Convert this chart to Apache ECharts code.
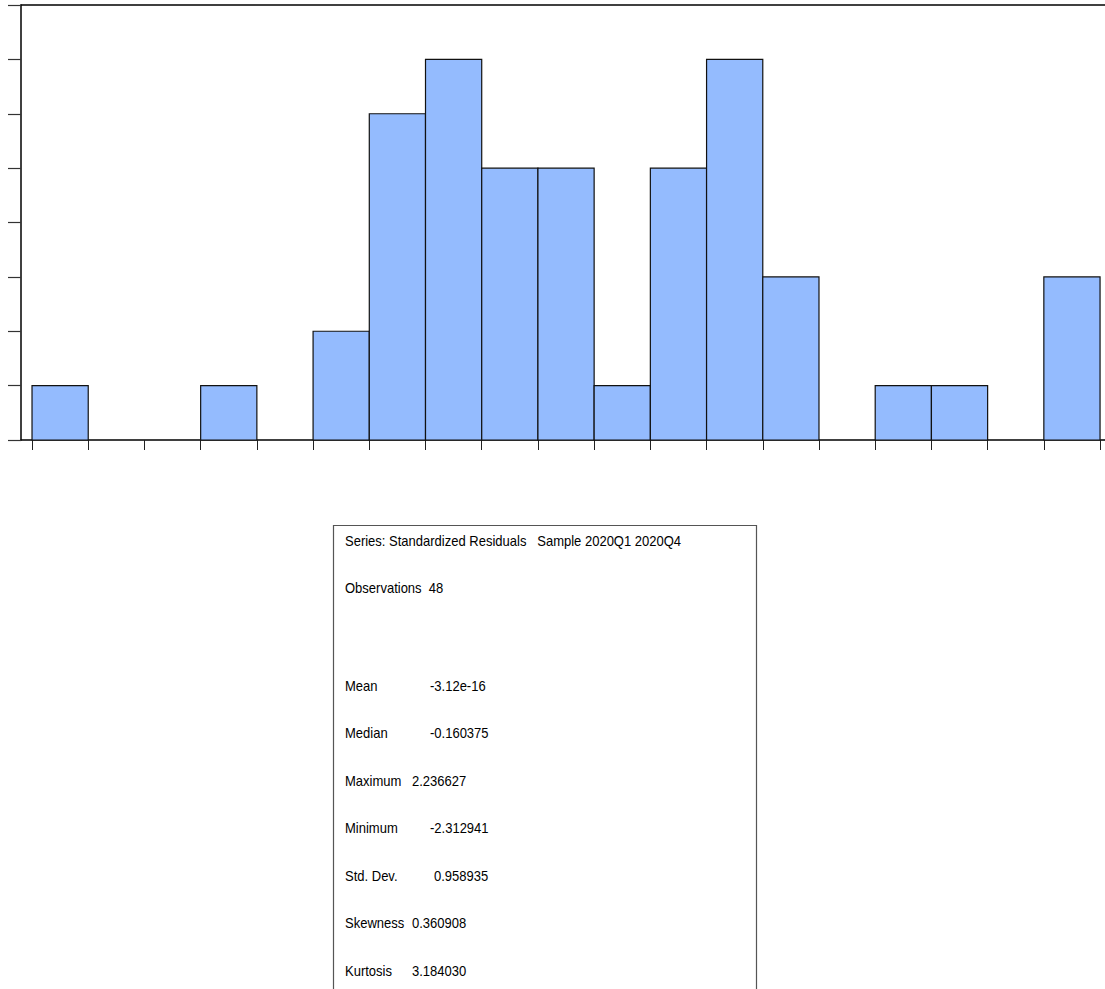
<!DOCTYPE html>
<html>
<head>
<meta charset="utf-8">
<script src="https://cdn.jsdelivr.net/npm/echarts@6/dist/echarts.min.js"></script>
<style>
html,body{margin:0;padding:0;background:#fff;}
#chart{width:1105px;height:989px;}
</style>
</head>
<body>
<div id="chart"></div>
<script>
// Histogram bins (lower edges, width 0.25) and counts
var binStarts = [-2.375, -2.125, -1.875, -1.625, -1.375, -1.125, -0.875, -0.625, -0.375, -0.125,
                 0.125, 0.375, 0.625, 0.875, 1.125, 1.375, 1.625, 1.875, 2.125];
var binWidth = 0.25;
var counts = [1, 0, 0, 1, 0, 2, 6, 7, 5, 5, 1, 5, 7, 3, 0, 1, 1, 0, 3];
var tickEdges = [-2.375, -2.125, -1.875, -1.625, -1.375, -1.125, -0.875, -0.625, -0.375, -0.125,
                 0.125, 0.375, 0.625, 0.875, 1.125, 1.375, 1.625, 1.875, 2.125, 2.375];

// Statistics box text
var headerLine = 'Series: Standardized Residuals   Sample 2020Q1 2020Q4';
var obsLine = 'Observations  48';
var statLabels = ['Mean', 'Median', 'Maximum', 'Minimum', 'Std. Dev.', 'Skewness', 'Kurtosis'];
var statValues = ['-3.12e-16', '-0.160375', '2.236627', '-2.312941', '0.958935', '0.360908', '3.184030'];

var chart = echarts.init(document.getElementById('chart'), null, {renderer: 'svg'});

var histData = binStarts.map(function (s, i) { return [s, s + binWidth, counts[i]]; });

var font = '14px "Liberation Sans", Arial, sans-serif';
var sx = 0.93;
function txt(x, y, s) {
  return {type: 'text', x: x, y: y, scaleX: sx,
          style: {text: s, font: font, fill: '#000', verticalAlign: 'middle'}};
}
var graphics = [
  {type: 'rect', shape: {x: 333.5, y: 525.5, width: 423, height: 480},
   style: {fill: 'none', stroke: '#555', lineWidth: 1.2}},
  txt(345, 541, headerLine),
  txt(345, 588, obsLine)
];
var valueX = [430, 430, 412, 430, 434, 412, 412];
var rowY0 = 686, rowStep = 47.5;
statLabels.forEach(function (lab, i) {
  var y = rowY0 + i * rowStep;
  graphics.push(txt(345, y, lab));
  graphics.push(txt(valueX[i], y, statValues[i]));
});

chart.setOption({
  animation: false,
  backgroundColor: '#fff',
  grid: {left: 21, right: 0, top: 5, bottom: 549, containLabel: false},
  xAxis: [{
    type: 'value', min: -2.424, max: 2.397,
    axisLine: {show: true, onZero: false, lineStyle: {color: '#000', width: 1.5}},
    axisTick: {show: true, inside: false, length: 10, customValues: tickEdges, lineStyle: {color: '#222', width: 1}},
    axisLabel: {show: false},
    splitLine: {show: false}
  }, {
    type: 'value', position: 'top', min: -2.424, max: 2.397,
    axisLine: {show: true, onZero: false, lineStyle: {color: '#000', width: 1.5}},
    axisTick: {show: false}, axisLabel: {show: false}, splitLine: {show: false}
  }],
  yAxis: {
    type: 'value', min: 0, max: 8, interval: 1,
    axisLine: {show: true, onZero: false, lineStyle: {color: '#000', width: 1.5}},
    axisTick: {show: true, inside: false, length: 13, lineStyle: {color: '#333', width: 1.2}},
    axisLabel: {show: false},
    splitLine: {show: false}
  },
  series: [{
    type: 'custom',
    xAxisIndex: 0,
    data: histData,
    renderItem: function (params, api) {
      var c = api.value(2);
      if (!c) return null;
      var p0 = api.coord([api.value(0), c]);
      var p1 = api.coord([api.value(1), 0]);
      return {
        type: 'rect',
        shape: {x: p0[0], y: p0[1], width: p1[0] - p0[0], height: p1[1] - p0[1]},
        style: {fill: '#94bbfe', stroke: '#111', lineWidth: 1.2}
      };
    },
    encode: {x: [0, 1], y: 2}
  }],
  graphic: graphics
});
</script>
</body>
</html>
